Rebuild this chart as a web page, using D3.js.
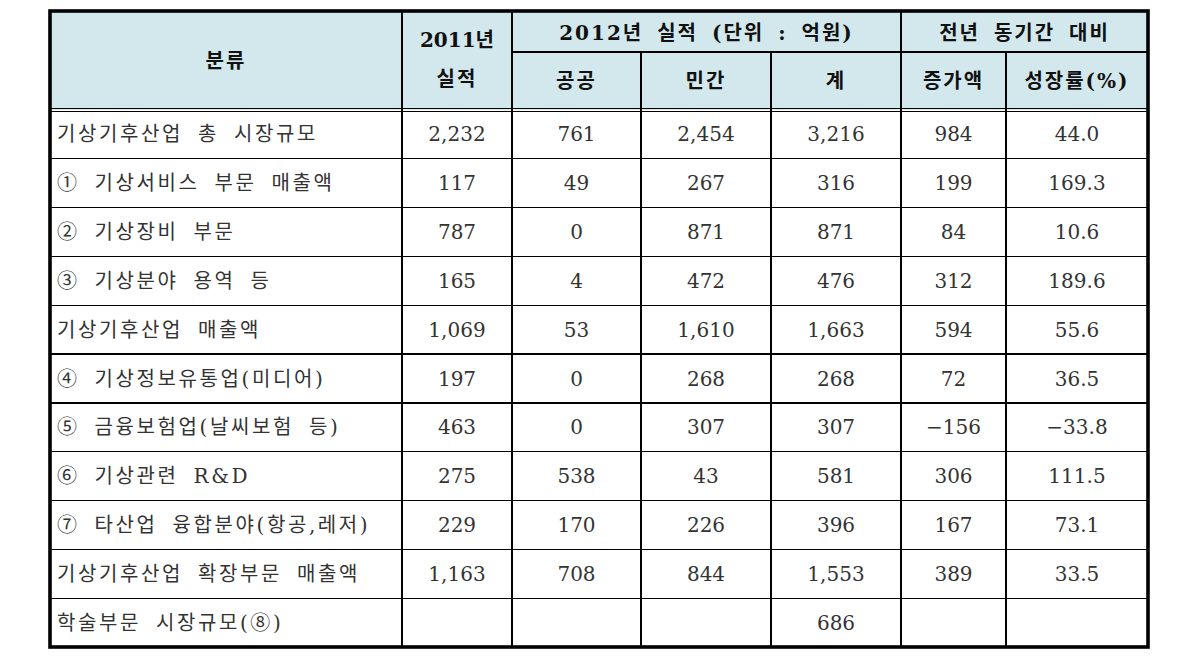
<!DOCTYPE html>
<html>
<head>
<meta charset="utf-8">
<script src="https://cdn.jsdelivr.net/npm/d3@7"></script>
<style>
  body { margin: 0; background: #fff; }
  svg text { font-family: "DejaVu Serif", "Noto Sans CJK KR", serif; }
</style>
</head>
<body>
<div id="table"></div>
<script>
// rows
var categories = [
  "기상기후산업 총 시장규모",
  "① 기상서비스 부문 매출액",
  "② 기상장비 부문",
  "③ 기상분야 용역 등",
  "기상기후산업 매출액",
  "④ 기상정보유통업(미디어)",
  "⑤ 금융보험업(날씨보험 등)",
  "⑥ 기상관련 R&D",
  "⑦ 타산업 융합분야(항공,레저)",
  "기상기후산업 확장부문 매출액",
  "학술부문 시장규모(⑧)"
];
var y2011   = ["2,232", "117", "787", "165", "1,069", "197", "463", "275", "229", "1,163", ""];
var publicV = ["761", "49", "0", "4", "53", "0", "0", "538", "170", "708", ""];
var privateV= ["2,454", "267", "871", "472", "1,610", "268", "307", "43", "226", "844", ""];
var totalV  = ["3,216", "316", "871", "476", "1,663", "268", "307", "581", "396", "1,553", "686"];
var increase= ["984", "199", "84", "312", "594", "72", "\u2212156", "306", "167", "389", ""];
var growth  = ["44.0", "169.3", "10.6", "189.6", "55.6", "36.5", "\u221233.8", "111.5", "73.1", "33.5", ""];

var colKeys = ["cat", "y2011", "pub", "priv", "tot", "inc", "gr"];
var subHeads = ["공공", "민간", "계", "증가액", "성장률(%)"];

var W = 1179, H = 658;
var colEdges = [50, 402, 512, 641, 771, 901, 1006, 1148];
var topY = 11, midHead = 52, headBottom = 110, bottomY = 647;

var svg = d3.select("#table").append("svg")
  .attr("width", W).attr("height", H);

// column scale: key -> left edge
var x = d3.scaleOrdinal().domain(colKeys).range(colEdges.slice(0, 7));
function colW(k) { var i = colKeys.indexOf(k); return colEdges[i + 1] - colEdges[i]; }
function colMid(k) { return x(k) + colW(k) / 2; }

var y = d3.scaleBand().domain(categories).range([headBottom, bottomY]);

var rows = categories.map(function(c, i) {
  return { cat: c, y2011: y2011[i], pub: publicV[i], priv: privateV[i], tot: totalV[i], inc: increase[i], gr: growth[i] };
});

// header background
svg.append("rect")
  .attr("x", colEdges[0]).attr("y", topY)
  .attr("width", colEdges[7] - colEdges[0]).attr("height", headBottom - topY)
  .attr("fill", "#d3e8ec");

var lines = svg.append("g").attr("stroke", "#000").attr("stroke-width", 1.2).attr("shape-rendering", "crispEdges");

// horizontal row lines
lines.selectAll("line.row")
  .data(categories.slice(1))
  .enter().append("line")
    .attr("x1", colEdges[0]).attr("x2", colEdges[7])
    .attr("y1", function(d) { return y(d); })
    .attr("y2", function(d) { return y(d); });

// header double line
lines.append("line").attr("x1", colEdges[0]).attr("x2", colEdges[7]).attr("y1", 108.5).attr("y2", 108.5);
lines.append("line").attr("x1", colEdges[0]).attr("x2", colEdges[7]).attr("y1", 111.5).attr("y2", 111.5);
// header middle line
lines.append("line").attr("x1", colEdges[2]).attr("x2", colEdges[7]).attr("y1", midHead).attr("y2", midHead);

// vertical lines
lines.selectAll("line.col")
  .data(colEdges.slice(1, 7))
  .enter().append("line")
    .attr("x1", function(d) { return d; }).attr("x2", function(d) { return d; })
    .attr("y1", function(d, i) { return (i === 2 || i === 3 || i === 5) ? midHead : topY; })
    .attr("y2", bottomY);

// outer border
svg.append("rect")
  .attr("x", colEdges[0]).attr("y", topY)
  .attr("width", colEdges[7] - colEdges[0]).attr("height", bottomY - topY)
  .attr("fill", "none").attr("stroke", "#000").attr("stroke-width", 3.6);

// header text
var head = svg.append("g").attr("font-size", 20).attr("font-weight", "bold").attr("fill", "#111")
  .attr("text-anchor", "middle").style("letter-spacing", "2px").style("word-spacing", "5px");
head.append("text").attr("x", colMid("cat")).attr("y", 68).text("분류");
head.append("text").attr("x", colMid("y2011")).attr("y", 47).style("letter-spacing", "0px").text("2011년");
head.append("text").attr("x", colMid("y2011")).attr("y", 86).text("실적");
head.append("text").attr("x", (colEdges[2] + colEdges[5]) / 2).attr("y", 40).text("2012년 실적 (단위 : 억원)");
head.append("text").attr("x", (colEdges[5] + colEdges[7]) / 2).attr("y", 40).text("전년 동기간 대비");
head.selectAll("text.sub")
  .data(subHeads)
  .enter().append("text")
    .attr("x", function(d, i) { return colMid(colKeys[i + 2]); })
    .attr("y", 88)
    .text(function(d) { return d; });

// body
var body = svg.append("g").attr("font-size", 20).attr("fill", "#333");
var rowG = body.selectAll("g.row")
  .data(rows)
  .enter().append("g")
    .attr("transform", function(d) { return "translate(0," + (y(d.cat) + y.bandwidth() / 2 + 7) + ")"; });

rowG.append("text")
  .attr("x", colEdges[0] + 7)
  .style("letter-spacing", "2.6px").style("word-spacing", "6px")
  .text(function(d) { return d.cat; });

colKeys.slice(1).forEach(function(k) {
  rowG.append("text")
    .attr("x", colMid(k))
    .attr("text-anchor", "middle")
    .text(function(d) { return d[k]; });
});
</script>
</body>
</html>
